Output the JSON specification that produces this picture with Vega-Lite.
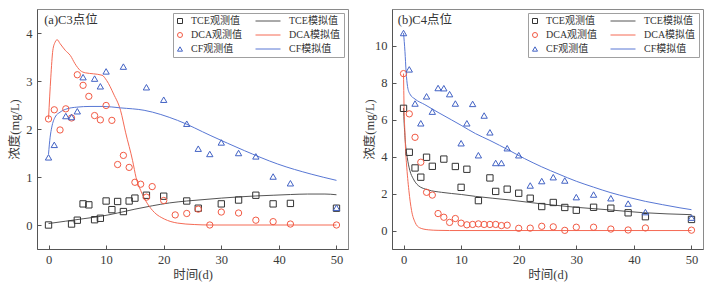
{
  "$schema": "https://vega.github.io/schema/vega-lite/v6.json",
  "padding": {"left": 7, "top": 8, "right": 5, "bottom": 5},
  "spacing": 13,
  "config": {
    "font": "Liberation Serif, Noto Sans CJK SC",
    "view": {"stroke": "#8a8a8a", "strokeWidth": 1},
    "axis": {
      "grid": false,
      "domainColor": "#555555",
      "tickColor": "#555555",
      "tickSize": -4,
      "labelFont": "Liberation Serif, Noto Sans CJK SC",
      "labelFontSize": 12.5,
      "labelColor": "#3a3a3a",
      "titleFont": "Liberation Serif, Noto Sans CJK SC",
      "titleFontSize": 12.5,
      "titleFontWeight": "normal",
      "titleColor": "#3a3a3a"
    },
    "axisX": {"labelPadding": 8, "titlePadding": 3},
    "axisY": {"labelPadding": 9, "minExtent": 13, "maxExtent": 13, "titlePadding": 3},
    "legend": {
      "orient": "top-right",
      "offset": 4,
      "columns": 2,
      "padding": 3,
      "strokeColor": "#a0a0a0",
      "fillColor": "white",
      "labelFont": "Liberation Serif, Noto Sans CJK SC",
      "labelFontSize": 10,
      "labelColor": "#333333",
      "rowPadding": 4,
      "columnPadding": 10,
      "symbolSize": 25,
      "symbolStrokeWidth": 1,
      "labelOffset": 8
    },
    "text": {"font": "Liberation Serif, Noto Sans CJK SC", "fontSize": 12.5, "color": "#333333"}
  },
  "datasets": {
    "a_obs": [
      {"t":0,"c":0,"series":"TCE观测值"},{"t":4,"c":0.02,"series":"TCE观测值"},{"t":5,"c":0.1,"series":"TCE观测值"},{"t":6,"c":0.44,"series":"TCE观测值"},{"t":7,"c":0.42,"series":"TCE观测值"},{"t":8,"c":0.11,"series":"TCE观测值"},{"t":9,"c":0.14,"series":"TCE观测值"},{"t":10,"c":0.5,"series":"TCE观测值"},{"t":11,"c":0.32,"series":"TCE观测值"},{"t":12,"c":0.49,"series":"TCE观测值"},{"t":13,"c":0.28,"series":"TCE观测值"},{"t":14,"c":0.5,"series":"TCE观测值"},{"t":15,"c":0.56,"series":"TCE观测值"},{"t":17,"c":0.62,"series":"TCE观测值"},{"t":20,"c":0.6,"series":"TCE观测值"},{"t":24,"c":0.5,"series":"TCE观测值"},{"t":26,"c":0.35,"series":"TCE观测值"},{"t":30,"c":0.44,"series":"TCE观测值"},{"t":33,"c":0.52,"series":"TCE观测值"},{"t":36,"c":0.62,"series":"TCE观测值"},{"t":39,"c":0.44,"series":"TCE观测值"},{"t":42,"c":0.45,"series":"TCE观测值"},{"t":50,"c":0.35,"series":"TCE观测值"},
      {"t":0,"c":2.21,"series":"DCA观测值"},{"t":1,"c":2.4,"series":"DCA观测值"},{"t":2,"c":1.98,"series":"DCA观测值"},{"t":3,"c":2.42,"series":"DCA观测值"},{"t":4,"c":2.23,"series":"DCA观测值"},{"t":5,"c":3.13,"series":"DCA观测值"},{"t":6,"c":2.91,"series":"DCA观测值"},{"t":7,"c":2.68,"series":"DCA观测值"},{"t":8,"c":2.28,"series":"DCA观测值"},{"t":9,"c":2.19,"series":"DCA观测值"},{"t":10,"c":2.49,"series":"DCA观测值"},{"t":11,"c":2.18,"series":"DCA观测值"},{"t":12,"c":1.26,"series":"DCA观测值"},{"t":13,"c":1.45,"series":"DCA观测值"},{"t":14,"c":1.2,"series":"DCA观测值"},{"t":15,"c":0.89,"series":"DCA观测值"},{"t":16,"c":0.85,"series":"DCA观测值"},{"t":17,"c":0.58,"series":"DCA观测值"},{"t":18,"c":0.8,"series":"DCA观测值"},{"t":20,"c":0.51,"series":"DCA观测值"},{"t":22,"c":0.21,"series":"DCA观测值"},{"t":24,"c":0.24,"series":"DCA观测值"},{"t":26,"c":0.33,"series":"DCA观测值"},{"t":28,"c":0,"series":"DCA观测值"},{"t":30,"c":0.27,"series":"DCA观测值"},{"t":33,"c":0.25,"series":"DCA观测值"},{"t":36,"c":0.1,"series":"DCA观测值"},{"t":39,"c":0.07,"series":"DCA观测值"},{"t":42,"c":0.02,"series":"DCA观测值"},{"t":50,"c":0,"series":"DCA观测值"},
      {"t":0,"c":1.41,"series":"CF观测值"},{"t":1,"c":1.67,"series":"CF观测值"},{"t":3,"c":2.27,"series":"CF观测值"},{"t":4,"c":2.25,"series":"CF观测值"},{"t":5,"c":2.37,"series":"CF观测值"},{"t":6,"c":3.08,"series":"CF观测值"},{"t":8,"c":3.05,"series":"CF观测值"},{"t":9,"c":2.89,"series":"CF观测值"},{"t":10,"c":3.2,"series":"CF观测值"},{"t":13,"c":3.3,"series":"CF观测值"},{"t":17,"c":2.87,"series":"CF观测值"},{"t":20,"c":2.61,"series":"CF观测值"},{"t":24,"c":2.11,"series":"CF观测值"},{"t":26,"c":1.59,"series":"CF观测值"},{"t":28,"c":1.48,"series":"CF观测值"},{"t":30,"c":1.72,"series":"CF观测值"},{"t":33,"c":1.5,"series":"CF观测值"},{"t":36,"c":1.43,"series":"CF观测值"},{"t":39,"c":1.01,"series":"CF观测值"},{"t":42,"c":0.87,"series":"CF观测值"},{"t":50,"c":0.36,"series":"CF观测值"}
    ],
    "a_sim": [
      {"t":0,"c":0.03,"series":"TCE模拟值"},{"t":3,"c":0.08,"series":"TCE模拟值"},{"t":6,"c":0.13,"series":"TCE模拟值"},{"t":9,"c":0.18,"series":"TCE模拟值"},{"t":12,"c":0.25,"series":"TCE模拟值"},{"t":15,"c":0.33,"series":"TCE模拟值"},{"t":18,"c":0.4,"series":"TCE模拟值"},{"t":21,"c":0.46,"series":"TCE模拟值"},{"t":24,"c":0.5,"series":"TCE模拟值"},{"t":27,"c":0.53,"series":"TCE模拟值"},{"t":30,"c":0.56,"series":"TCE模拟值"},{"t":33,"c":0.585,"series":"TCE模拟值"},{"t":36,"c":0.605,"series":"TCE模拟值"},{"t":39,"c":0.62,"series":"TCE模拟值"},{"t":42,"c":0.635,"series":"TCE模拟值"},{"t":45,"c":0.645,"series":"TCE模拟值"},{"t":48,"c":0.645,"series":"TCE模拟值"},{"t":50,"c":0.63,"series":"TCE模拟值"},
      {"t":0,"c":2.21,"series":"DCA模拟值"},{"t":0.4,"c":3.08,"series":"DCA模拟值"},{"t":0.75,"c":3.64,"series":"DCA模拟值"},{"t":1.15,"c":3.81,"series":"DCA模拟值"},{"t":1.5,"c":3.86,"series":"DCA模拟值"},{"t":2,"c":3.78,"series":"DCA模拟值"},{"t":2.9,"c":3.64,"series":"DCA模拟值"},{"t":3.8,"c":3.53,"series":"DCA模拟值"},{"t":4.6,"c":3.36,"series":"DCA模拟值"},{"t":5.5,"c":3.22,"series":"DCA模拟值"},{"t":6.4,"c":3.17,"series":"DCA模拟值"},{"t":7.8,"c":3.15,"series":"DCA模拟值"},{"t":9.3,"c":3.12,"series":"DCA模拟值"},{"t":10.1,"c":3.01,"series":"DCA模拟值"},{"t":11.3,"c":2.73,"series":"DCA模拟值"},{"t":12.5,"c":2.39,"series":"DCA模拟值"},{"t":13.4,"c":1.92,"series":"DCA模拟值"},{"t":14.6,"c":1.34,"series":"DCA模拟值"},{"t":15.2,"c":0.99,"series":"DCA模拟值"},{"t":16,"c":0.72,"series":"DCA模拟值"},{"t":17.2,"c":0.44,"series":"DCA模拟值"},{"t":18.4,"c":0.26,"series":"DCA模拟值"},{"t":20.1,"c":0.125,"series":"DCA模拟值"},{"t":22.4,"c":0.04,"series":"DCA模拟值"},{"t":25.3,"c":0.01,"series":"DCA模拟值"},{"t":28,"c":0,"series":"DCA模拟值"},{"t":50,"c":0,"series":"DCA模拟值"},
      {"t":0,"c":1.48,"series":"CF模拟值"},{"t":0.28,"c":1.83,"series":"CF模拟值"},{"t":0.57,"c":2.04,"series":"CF模拟值"},{"t":1.15,"c":2.25,"series":"CF模拟值"},{"t":2,"c":2.35,"series":"CF模拟值"},{"t":3.2,"c":2.42,"series":"CF模拟值"},{"t":4.9,"c":2.455,"series":"CF模拟值"},{"t":7.2,"c":2.47,"series":"CF模拟值"},{"t":9.5,"c":2.47,"series":"CF模拟值"},{"t":12.5,"c":2.44,"series":"CF模拟值"},{"t":16.6,"c":2.39,"series":"CF模拟值"},{"t":22.4,"c":2.18,"series":"CF模拟值"},{"t":28.2,"c":1.86,"series":"CF模拟值"},{"t":34,"c":1.55,"series":"CF模拟值"},{"t":39.8,"c":1.27,"series":"CF模拟值"},{"t":45.6,"c":1.06,"series":"CF模拟值"},{"t":50,"c":0.93,"series":"CF模拟值"}
    ],
    "b_obs": [
      {"t":0,"c":6.62,"series":"TCE观测值"},{"t":1,"c":4.24,"series":"TCE观测值"},{"t":2,"c":3.39,"series":"TCE观测值"},{"t":3,"c":2.89,"series":"TCE观测值"},{"t":4,"c":3.97,"series":"TCE观测值"},{"t":5,"c":3.48,"series":"TCE观测值"},{"t":7,"c":3.87,"series":"TCE观测值"},{"t":9,"c":3.47,"series":"TCE观测值"},{"t":10,"c":2.34,"series":"TCE观测值"},{"t":11,"c":3.32,"series":"TCE观测值"},{"t":13,"c":1.62,"series":"TCE观测值"},{"t":15,"c":2.85,"series":"TCE观测值"},{"t":16,"c":2.12,"series":"TCE观测值"},{"t":18,"c":2.24,"series":"TCE观测值"},{"t":20,"c":2.02,"series":"TCE观测值"},{"t":22,"c":1.75,"series":"TCE观测值"},{"t":24,"c":1.3,"series":"TCE观测值"},{"t":26,"c":1.52,"series":"TCE观测值"},{"t":28,"c":1.25,"series":"TCE观测值"},{"t":30,"c":1.1,"series":"TCE观测值"},{"t":33,"c":1.26,"series":"TCE观测值"},{"t":36,"c":1.21,"series":"TCE观测值"},{"t":39,"c":0.96,"series":"TCE观测值"},{"t":42,"c":0.75,"series":"TCE观测值"},{"t":50,"c":0.6,"series":"TCE观测值"},
      {"t":0,"c":8.5,"series":"DCA观测值"},{"t":1,"c":6.32,"series":"DCA观测值"},{"t":2,"c":5.05,"series":"DCA观测值"},{"t":3,"c":3.7,"series":"DCA观测值"},{"t":4,"c":2.07,"series":"DCA观测值"},{"t":5,"c":1.92,"series":"DCA观测值"},{"t":6,"c":0.92,"series":"DCA观测值"},{"t":7,"c":0.72,"series":"DCA观测值"},{"t":8,"c":0.44,"series":"DCA观测值"},{"t":9,"c":0.65,"series":"DCA观测值"},{"t":10,"c":0.4,"series":"DCA观测值"},{"t":11,"c":0.31,"series":"DCA观测值"},{"t":12,"c":0.33,"series":"DCA观测值"},{"t":13,"c":0.36,"series":"DCA观测值"},{"t":14,"c":0.33,"series":"DCA观测值"},{"t":15,"c":0.33,"series":"DCA观测值"},{"t":16,"c":0.33,"series":"DCA观测值"},{"t":17,"c":0.27,"series":"DCA观测值"},{"t":18,"c":0.29,"series":"DCA观测值"},{"t":20,"c":0.12,"series":"DCA观测值"},{"t":22,"c":0.13,"series":"DCA观测值"},{"t":24,"c":0.23,"series":"DCA观测值"},{"t":26,"c":0.2,"series":"DCA观测值"},{"t":28,"c":0.01,"series":"DCA观测值"},{"t":30,"c":0.18,"series":"DCA观测值"},{"t":33,"c":0.18,"series":"DCA观测值"},{"t":36,"c":0.08,"series":"DCA观测值"},{"t":39,"c":0.03,"series":"DCA观测值"},{"t":42,"c":0.14,"series":"DCA观测值"},{"t":50,"c":0.02,"series":"DCA观测值"},
      {"t":0,"c":10.7,"series":"CF观测值"},{"t":1,"c":8.73,"series":"CF观测值"},{"t":2,"c":6.88,"series":"CF观测值"},{"t":3,"c":5.81,"series":"CF观测值"},{"t":4,"c":7.27,"series":"CF观测值"},{"t":5,"c":6.44,"series":"CF观测值"},{"t":6,"c":7.72,"series":"CF观测值"},{"t":7,"c":7.71,"series":"CF观测值"},{"t":8,"c":7.39,"series":"CF观测值"},{"t":9,"c":6.88,"series":"CF观测值"},{"t":10,"c":4.73,"series":"CF观测值"},{"t":11,"c":5.81,"series":"CF观测值"},{"t":12,"c":6.86,"series":"CF观测值"},{"t":13,"c":4.08,"series":"CF观测值"},{"t":14,"c":6.23,"series":"CF观测值"},{"t":15,"c":5.32,"series":"CF观测值"},{"t":16,"c":3.66,"series":"CF观测值"},{"t":17,"c":3.66,"series":"CF观测值"},{"t":18,"c":4.46,"series":"CF观测值"},{"t":20,"c":4.08,"series":"CF观测值"},{"t":22,"c":2.44,"series":"CF观测值"},{"t":24,"c":2.68,"series":"CF观测值"},{"t":26,"c":2.89,"series":"CF观测值"},{"t":28,"c":2.71,"series":"CF观测值"},{"t":30,"c":1.81,"series":"CF观测值"},{"t":33,"c":1.95,"series":"CF观测值"},{"t":36,"c":1.75,"series":"CF观测值"},{"t":39,"c":1.46,"series":"CF观测值"},{"t":42,"c":1.0,"series":"CF观测值"},{"t":50,"c":0.7,"series":"CF观测值"}
    ],
    "b_sim": [
      {"t":0,"c":6.64,"series":"TCE模拟值"},{"t":0.12,"c":5.78,"series":"TCE模拟值"},{"t":0.35,"c":4.69,"series":"TCE模拟值"},{"t":0.64,"c":3.97,"series":"TCE模拟值"},{"t":1.1,"c":3.25,"series":"TCE模拟值"},{"t":1.7,"c":2.8,"series":"TCE模拟值"},{"t":2.55,"c":2.44,"series":"TCE模拟值"},{"t":4.3,"c":2.2,"series":"TCE模拟值"},{"t":6.6,"c":2.07,"series":"TCE模拟值"},{"t":10.1,"c":1.95,"series":"TCE模拟值"},{"t":12.5,"c":1.85,"series":"TCE模拟值"},{"t":18.3,"c":1.66,"series":"TCE模拟值"},{"t":24.1,"c":1.44,"series":"TCE模拟值"},{"t":29.9,"c":1.26,"series":"TCE模拟值"},{"t":35.7,"c":1.12,"series":"TCE模拟值"},{"t":41.5,"c":0.97,"series":"TCE模拟值"},{"t":50,"c":0.86,"series":"TCE模拟值"},
      {"t":0,"c":8.5,"series":"DCA模拟值"},{"t":0.12,"c":6.32,"series":"DCA模拟值"},{"t":0.23,"c":5.41,"series":"DCA模拟值"},{"t":0.35,"c":4.4,"series":"DCA模拟值"},{"t":0.52,"c":3.61,"series":"DCA模拟值"},{"t":0.93,"c":2.17,"series":"DCA模拟值"},{"t":1.4,"c":1.08,"series":"DCA模拟值"},{"t":2,"c":0.45,"series":"DCA模拟值"},{"t":2.8,"c":0.15,"series":"DCA模拟值"},{"t":4.3,"c":0.04,"series":"DCA模拟值"},{"t":6,"c":0.01,"series":"DCA模拟值"},{"t":8,"c":0,"series":"DCA模拟值"},{"t":50,"c":0,"series":"DCA模拟值"},
      {"t":0,"c":10.7,"series":"CF模拟值"},{"t":0.25,"c":9.7,"series":"CF模拟值"},{"t":0.45,"c":8.6,"series":"CF模拟值"},{"t":0.7,"c":7.8,"series":"CF模拟值"},{"t":1.1,"c":7.4,"series":"CF模拟值"},{"t":2,"c":7.12,"series":"CF模拟值"},{"t":3.7,"c":6.82,"series":"CF模拟值"},{"t":6,"c":6.4,"series":"CF模拟值"},{"t":8.3,"c":6.0,"series":"CF模拟值"},{"t":10,"c":5.7,"series":"CF模拟值"},{"t":12.5,"c":5.25,"series":"CF模拟值"},{"t":15,"c":4.88,"series":"CF模拟值"},{"t":18.3,"c":4.35,"series":"CF模拟值"},{"t":21,"c":3.9,"series":"CF模拟值"},{"t":24,"c":3.45,"series":"CF模拟值"},{"t":27,"c":3.05,"series":"CF模拟值"},{"t":30,"c":2.67,"series":"CF模拟值"},{"t":33,"c":2.35,"series":"CF模拟值"},{"t":36,"c":2.05,"series":"CF模拟值"},{"t":39,"c":1.8,"series":"CF模拟值"},{"t":42,"c":1.58,"series":"CF模拟值"},{"t":45,"c":1.4,"series":"CF模拟值"},{"t":48,"c":1.23,"series":"CF模拟值"},{"t":50,"c":1.13,"series":"CF模拟值"}
    ]
  },
  "resolve": {"scale": {"color": "independent", "shape": "independent"}, "legend": {"color": "independent", "shape": "independent"}},
  "hconcat": [
    {
      "width": 311,
      "height": 240,
      "layer": [
        {
          "data": {"name": "a_sim"},
          "mark": {"type": "line", "strokeWidth": 1, "interpolate": "monotone"},
          "encoding": {
            "x": {"field": "t", "type": "quantitative", "scale": {"domain": [-2, 52], "nice": false, "zero": false}, "axis": {"values": [0, 10, 20, 30, 40, 50], "title": "时间(d)"}},
            "y": {"field": "c", "type": "quantitative", "scale": {"domain": [-0.5, 4.5], "nice": false, "zero": false}, "axis": {"values": [0, 1, 2, 3, 4], "title": "浓度(mg/L)"}},
            "color": {"field": "series", "type": "nominal",
              "scale": {"domain": ["TCE观测值", "DCA观测值", "CF观测值", "TCE模拟值", "DCA模拟值", "CF模拟值"], "range": ["#333333", "#f25a44", "#4262c4", "#555555", "#f56a55", "#5877d4"]},
              "legend": {"title": null, "encode": {"symbols": {"update": {"fill": {"value": "transparent"}, "x": [{"test": "indexof(datum.value,'模拟')>=0", "value": 13}, {"value": 4}]}}, "labels": {"update": {"x": [{"test": "indexof(datum.value,'模拟')>=0", "value": 34}, {"value": 15}]}}}}}
          }
        },
        {
          "data": {"name": "a_obs"},
          "mark": {"type": "point", "filled": false, "size": 40, "strokeWidth": 1, "opacity": 1},
          "encoding": {
            "x": {"field": "t", "type": "quantitative"},
            "y": {"field": "c", "type": "quantitative"},
            "color": {"field": "series", "type": "nominal", "legend": {"title": null}},
            "shape": {"field": "series", "type": "nominal",
              "scale": {"domain": ["TCE观测值", "DCA观测值", "CF观测值", "TCE模拟值", "DCA模拟值", "CF模拟值"], "range": ["square", "circle", "triangle-up", "M-5,0H5", "M-5,0H5", "M-5,0H5"]},
              "legend": {"title": null}}
          }
        },
        {
          "data": {"values": [{"label": "(a)C3点位"}]},
          "mark": {"type": "text", "align": "left", "baseline": "middle"},
          "encoding": {
            "x": {"datum": -0.75},
            "y": {"datum": 4.28},
            "text": {"field": "label"}
          }
        }
      ]
    },
    {
      "width": 311,
      "height": 240,
      "layer": [
        {
          "data": {"name": "b_sim"},
          "mark": {"type": "line", "strokeWidth": 1, "interpolate": "monotone"},
          "encoding": {
            "x": {"field": "t", "type": "quantitative", "scale": {"domain": [-2, 52], "nice": false, "zero": false}, "axis": {"values": [0, 10, 20, 30, 40, 50], "title": "时间(d)"}},
            "y": {"field": "c", "type": "quantitative", "scale": {"domain": [-1, 12], "nice": false, "zero": false}, "axis": {"values": [0, 2, 4, 6, 8, 10], "title": "浓度(mg/L)"}},
            "color": {"field": "series", "type": "nominal",
              "scale": {"domain": ["TCE观测值", "DCA观测值", "CF观测值", "TCE模拟值", "DCA模拟值", "CF模拟值"], "range": ["#333333", "#f25a44", "#4262c4", "#555555", "#f56a55", "#5877d4"]},
              "legend": {"title": null, "encode": {"symbols": {"update": {"fill": {"value": "transparent"}, "x": [{"test": "indexof(datum.value,'模拟')>=0", "value": 13}, {"value": 4}]}}, "labels": {"update": {"x": [{"test": "indexof(datum.value,'模拟')>=0", "value": 34}, {"value": 15}]}}}}}
          }
        },
        {
          "data": {"name": "b_obs"},
          "mark": {"type": "point", "filled": false, "size": 40, "strokeWidth": 1, "opacity": 1},
          "encoding": {
            "x": {"field": "t", "type": "quantitative"},
            "y": {"field": "c", "type": "quantitative"},
            "color": {"field": "series", "type": "nominal", "legend": {"title": null}},
            "shape": {"field": "series", "type": "nominal",
              "scale": {"domain": ["TCE观测值", "DCA观测值", "CF观测值", "TCE模拟值", "DCA模拟值", "CF模拟值"], "range": ["square", "circle", "triangle-up", "M-5,0H5", "M-5,0H5", "M-5,0H5"]},
              "legend": {"title": null}}
          }
        },
        {
          "data": {"values": [{"label": "(b)C4点位"}]},
          "mark": {"type": "text", "align": "left", "baseline": "middle"},
          "encoding": {
            "x": {"datum": -1.0},
            "y": {"datum": 11.4},
            "text": {"field": "label"}
          }
        }
      ]
    }
  ]
}
